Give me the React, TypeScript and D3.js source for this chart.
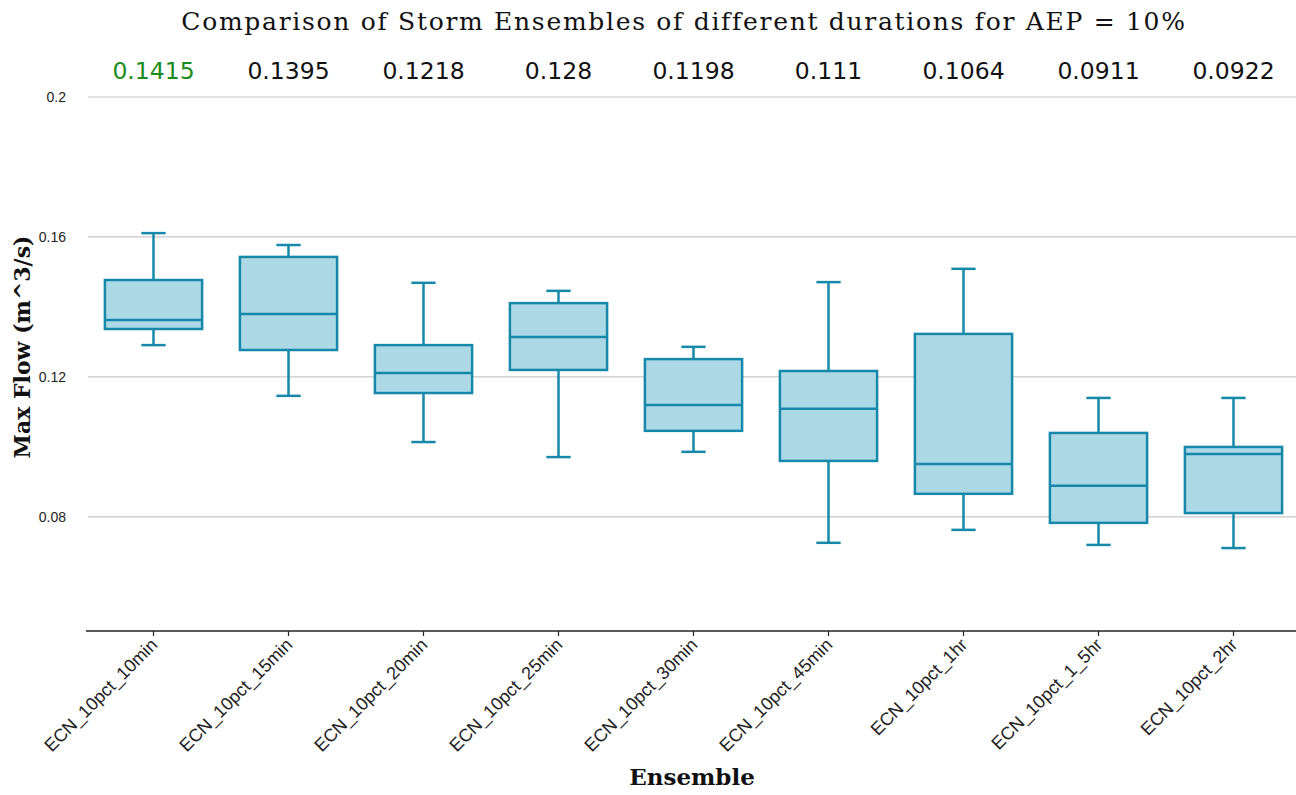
import React from "react";
import * as d3 from "d3";

const categories = [
  "ECN_10pct_10min",
  "ECN_10pct_15min",
  "ECN_10pct_20min",
  "ECN_10pct_25min",
  "ECN_10pct_30min",
  "ECN_10pct_45min",
  "ECN_10pct_1hr",
  "ECN_10pct_1_5hr",
  "ECN_10pct_2hr",
];

// five-number summaries
const whiskerLow = [0.1291, 0.1146, 0.1014, 0.0971, 0.0986, 0.0726, 0.0763, 0.072, 0.0711];
const q1 = [0.1337, 0.1277, 0.1154, 0.122, 0.1046, 0.096, 0.0866, 0.0783, 0.0811];
const median = [0.1363, 0.138, 0.1211, 0.1314, 0.112, 0.1109, 0.0951, 0.0889, 0.098];
const q3 = [0.1477, 0.1543, 0.1291, 0.1411, 0.1251, 0.1217, 0.1323, 0.104, 0.1];
const whiskerHigh = [0.1611, 0.1577, 0.1469, 0.1446, 0.1286, 0.1471, 0.1509, 0.114, 0.114];

const meanLabels = ["0.1415", "0.1395", "0.1218", "0.128", "0.1198", "0.111", "0.1064", "0.0911", "0.0922"];
const yTicks = [0.08, 0.12, 0.16, 0.2];

const W = 1296;
const H = 795;
const plotLeft = 86;
const plotRight = 1301;
const plotTop = 97;
const plotBottom = 631;

const stroke = "#1689aa";
const fill = "#add8e6";
const slab = "'DejaVu Serif', serif";
const sans = "'Liberation Sans', Arial, sans-serif";

const App = () => {
  const x = d3.scaleBand().domain(categories).range([plotLeft, plotRight]);
  const y = d3.scaleLinear().domain([0.0474, 0.2]).range([plotBottom, plotTop]);
  const bw = x.bandwidth();
  const boxW = bw * 0.72;
  const capW = bw * 0.18;

  // highest mean gets the green label
  const top = d3.maxIndex(meanLabels, (d) => +d);

  return (
    <svg width={W} height={H} style={{ position: "absolute", left: 0, top: 0, background: "#fff" }}>
      <text x={684} y={30} textAnchor="middle" fontFamily={slab} fontSize={25} letterSpacing={1.7} fill="#111">
        Comparison of Storm Ensembles of different durations for AEP = 10%
      </text>

      {yTicks.map((t) => (
        <g key={t}>
          <line x1={plotLeft + 2} x2={W} y1={y(t)} y2={y(t)} stroke="#c8c8c8" strokeWidth={1.2} />
          <text x={66} y={y(t) + 5} textAnchor="end" fontFamily={sans} fontSize={14} fill="#222">
            {d3.format("")(t)}
          </text>
        </g>
      ))}

      {meanLabels.map((m, i) => (
        <text
          key={m + i}
          x={x(categories[i])! + bw / 2}
          y={79}
          textAnchor="middle"
          fontFamily="'DejaVu Sans', sans-serif"
          fontSize={23.5}
          fill={i === top ? "#1a8c1a" : "#111"}
        >
          {m}
        </text>
      ))}

      {categories.map((c, i) => {
        const cx = x(c)! + bw / 2;
        return (
          <g key={c} stroke={stroke} strokeWidth={2.5} fill="none">
            <line x1={cx} x2={cx} y1={y(whiskerHigh[i])} y2={y(q3[i])} />
            <line x1={cx} x2={cx} y1={y(q1[i])} y2={y(whiskerLow[i])} />
            <line x1={cx - capW / 2} x2={cx + capW / 2} y1={y(whiskerHigh[i])} y2={y(whiskerHigh[i])} />
            <line x1={cx - capW / 2} x2={cx + capW / 2} y1={y(whiskerLow[i])} y2={y(whiskerLow[i])} />
            <rect x={cx - boxW / 2} y={y(q3[i])} width={boxW} height={y(q1[i]) - y(q3[i])} fill={fill} />
            <line x1={cx - boxW / 2} x2={cx + boxW / 2} y1={y(median[i])} y2={y(median[i])} />
          </g>
        );
      })}

      <line x1={plotLeft} x2={W} y1={plotBottom} y2={plotBottom} stroke="#222" strokeWidth={1.5} />
      {categories.map((c) => {
        const cx = x(c)! + bw / 2;
        return (
          <g key={c}>
            <line x1={cx} x2={cx} y1={plotBottom} y2={plotBottom + 5} stroke="#222" strokeWidth={1.2} />
            <text
              transform={`translate(${cx + 5},${plotBottom + 15}) rotate(-45)`}
              textAnchor="end"
              fontFamily={sans}
              fontSize={18}
              fill="#222"
            >
              {c}
            </text>
          </g>
        );
      })}

      <text x={692} y={785} textAnchor="middle" fontFamily={slab} fontWeight="bold" fontSize={23} fill="#111">
        Ensemble
      </text>
      <text
        transform={`translate(30,347) rotate(-90)`}
        textAnchor="middle"
        fontFamily={slab}
        fontWeight="bold"
        fontSize={22}
        fill="#111"
      >
        Max Flow (m^3/s)
      </text>
    </svg>
  );
};

export default App;
